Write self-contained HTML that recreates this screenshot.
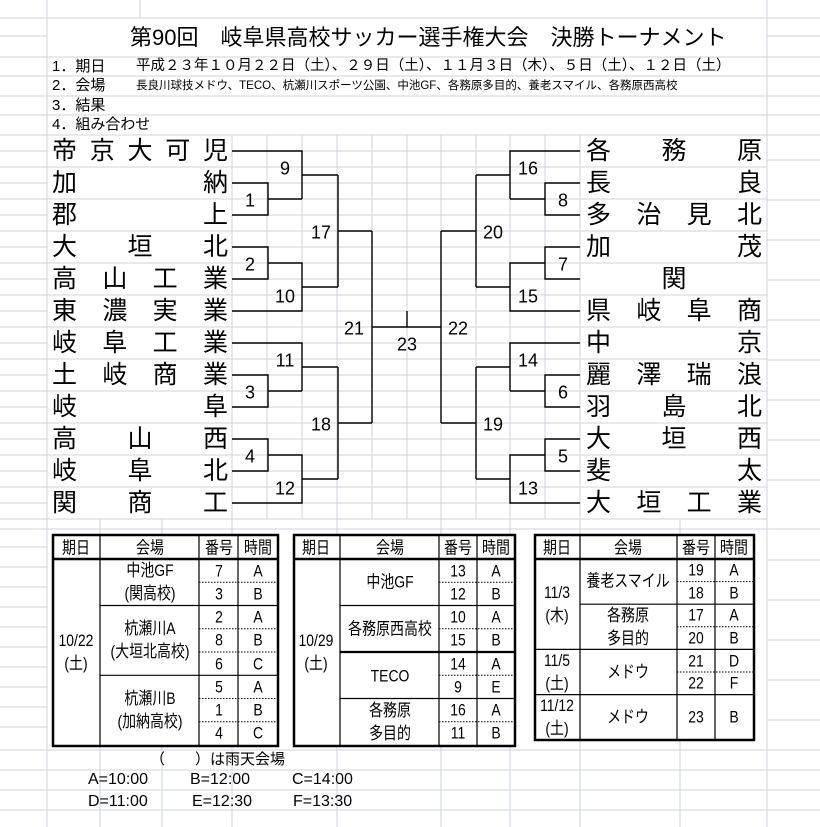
<!DOCTYPE html>
<html><head><meta charset="utf-8">
<style>
html,body{margin:0;padding:0;background:#fff;}
#w{position:relative;width:820px;height:827px;overflow:hidden;font-family:"Liberation Sans","Noto Sans CJK JP",sans-serif;color:#000;}
svg{position:absolute;left:0;top:0;}
.t{position:absolute;white-space:nowrap;}
.n{position:absolute;height:32px;line-height:32px;font-size:25px;display:flex;justify-content:space-between;}
.c{position:absolute;transform:translate(-50%,-50%) scaleX(0.82);white-space:pre;text-align:center;font-size:17px;line-height:23px;}
.b{position:absolute;transform:translate(-50%,-50%);font-size:18px;}
</style></head><body><div id="w">
<svg width="820" height="827">
<g stroke="#cdd3dd" stroke-width="1">
<line x1="47" y1="0" x2="47" y2="827"/>
<line x1="767" y1="0" x2="767" y2="827"/>
<line x1="140" y1="0" x2="140" y2="18"/>
<line x1="0" y1="18" x2="820" y2="18"/><line x1="0" y1="57" x2="820" y2="57"/>
<line x1="0" y1="76" x2="820" y2="76"/><line x1="0" y1="96" x2="820" y2="96"/>
<line x1="0" y1="115" x2="820" y2="115"/><line x1="0" y1="135" x2="820" y2="135"/>
<line x1="0" y1="529" x2="820" y2="529"/><line x1="0" y1="750" x2="820" y2="750"/>
<line x1="0" y1="770" x2="820" y2="770"/><line x1="0" y1="790" x2="820" y2="790"/>
<line x1="0" y1="810" x2="820" y2="810"/>
<g>
<line x1="0" y1="151" x2="47" y2="151"/><line x1="0" y1="167" x2="47" y2="167"/><line x1="0" y1="183" x2="47" y2="183"/><line x1="0" y1="199" x2="47" y2="199"/><line x1="0" y1="215" x2="47" y2="215"/><line x1="0" y1="231" x2="47" y2="231"/><line x1="0" y1="247" x2="47" y2="247"/><line x1="0" y1="263" x2="47" y2="263"/><line x1="0" y1="279" x2="47" y2="279"/><line x1="0" y1="295" x2="47" y2="295"/><line x1="0" y1="311" x2="47" y2="311"/><line x1="0" y1="327" x2="47" y2="327"/><line x1="0" y1="343" x2="47" y2="343"/><line x1="0" y1="359" x2="47" y2="359"/><line x1="0" y1="375" x2="47" y2="375"/><line x1="0" y1="391" x2="47" y2="391"/><line x1="0" y1="407" x2="47" y2="407"/><line x1="0" y1="423" x2="47" y2="423"/><line x1="0" y1="439" x2="47" y2="439"/><line x1="0" y1="455" x2="47" y2="455"/><line x1="0" y1="471" x2="47" y2="471"/><line x1="0" y1="487" x2="47" y2="487"/><line x1="0" y1="503" x2="47" y2="503"/><line x1="0" y1="519" x2="47" y2="519"/>
<line x1="0" y1="36" x2="47" y2="36"/><line x1="0" y1="547" x2="47" y2="547"/><line x1="0" y1="567" x2="47" y2="567"/><line x1="0" y1="587" x2="47" y2="587"/><line x1="0" y1="607" x2="47" y2="607"/><line x1="0" y1="627" x2="47" y2="627"/><line x1="0" y1="647" x2="47" y2="647"/><line x1="0" y1="667" x2="47" y2="667"/><line x1="0" y1="687" x2="47" y2="687"/><line x1="0" y1="707" x2="47" y2="707"/><line x1="0" y1="727" x2="47" y2="727"/>
<line x1="767" y1="36" x2="820" y2="36"/><line x1="767" y1="160" x2="820" y2="160"/><line x1="767" y1="200" x2="820" y2="200"/><line x1="767" y1="240" x2="820" y2="240"/><line x1="767" y1="280" x2="820" y2="280"/><line x1="767" y1="320" x2="820" y2="320"/><line x1="767" y1="360" x2="820" y2="360"/><line x1="767" y1="400" x2="820" y2="400"/><line x1="767" y1="440" x2="820" y2="440"/><line x1="767" y1="480" x2="820" y2="480"/><line x1="767" y1="560" x2="820" y2="560"/><line x1="767" y1="600" x2="820" y2="600"/><line x1="767" y1="640" x2="820" y2="640"/><line x1="767" y1="680" x2="820" y2="680"/><line x1="767" y1="720" x2="820" y2="720"/>
</g>
<g>
<line x1="232" y1="167" x2="580" y2="167"/><line x1="232" y1="199" x2="580" y2="199"/><line x1="232" y1="231" x2="580" y2="231"/><line x1="232" y1="263" x2="580" y2="263"/><line x1="232" y1="295" x2="580" y2="295"/><line x1="232" y1="327" x2="580" y2="327"/><line x1="232" y1="359" x2="580" y2="359"/><line x1="232" y1="391" x2="580" y2="391"/><line x1="232" y1="423" x2="580" y2="423"/><line x1="232" y1="455" x2="580" y2="455"/><line x1="232" y1="487" x2="580" y2="487"/><line x1="232" y1="519" x2="580" y2="519"/>
<line x1="232" y1="151" x2="580" y2="151"/><line x1="232" y1="183" x2="580" y2="183"/><line x1="232" y1="215" x2="580" y2="215"/><line x1="232" y1="247" x2="580" y2="247"/><line x1="232" y1="279" x2="580" y2="279"/><line x1="232" y1="311" x2="580" y2="311"/><line x1="232" y1="343" x2="580" y2="343"/><line x1="232" y1="375" x2="580" y2="375"/><line x1="232" y1="407" x2="580" y2="407"/><line x1="232" y1="439" x2="580" y2="439"/><line x1="232" y1="471" x2="580" y2="471"/><line x1="232" y1="503" x2="580" y2="503"/>
<line x1="232" y1="135" x2="232" y2="827"/><line x1="267" y1="135" x2="267" y2="519"/><line x1="302" y1="135" x2="302" y2="519"/><line x1="337" y1="135" x2="337" y2="519"/><line x1="372" y1="135" x2="372" y2="519"/><line x1="407" y1="135" x2="407" y2="519"/><line x1="441" y1="135" x2="441" y2="519"/><line x1="476" y1="135" x2="476" y2="519"/><line x1="510" y1="135" x2="510" y2="519"/><line x1="545" y1="135" x2="545" y2="519"/><line x1="580" y1="135" x2="580" y2="827"/>
<line x1="47" y1="167" x2="232" y2="167"/><line x1="47" y1="199" x2="232" y2="199"/><line x1="47" y1="231" x2="232" y2="231"/><line x1="47" y1="263" x2="232" y2="263"/><line x1="47" y1="295" x2="232" y2="295"/><line x1="47" y1="327" x2="232" y2="327"/><line x1="47" y1="359" x2="232" y2="359"/><line x1="47" y1="391" x2="232" y2="391"/><line x1="47" y1="423" x2="232" y2="423"/><line x1="47" y1="455" x2="232" y2="455"/><line x1="47" y1="487" x2="232" y2="487"/><line x1="47" y1="519" x2="232" y2="519"/>
<line x1="580" y1="167" x2="767" y2="167"/><line x1="580" y1="199" x2="767" y2="199"/><line x1="580" y1="231" x2="767" y2="231"/><line x1="580" y1="263" x2="767" y2="263"/><line x1="580" y1="295" x2="767" y2="295"/><line x1="580" y1="327" x2="767" y2="327"/><line x1="580" y1="359" x2="767" y2="359"/><line x1="580" y1="391" x2="767" y2="391"/><line x1="580" y1="423" x2="767" y2="423"/><line x1="580" y1="455" x2="767" y2="455"/><line x1="580" y1="487" x2="767" y2="487"/><line x1="580" y1="519" x2="767" y2="519"/>
<line x1="100" y1="519" x2="100" y2="827"/><line x1="162" y1="519" x2="162" y2="827"/><line x1="337" y1="519" x2="337" y2="827"/><line x1="441" y1="519" x2="441" y2="827"/><line x1="510" y1="519" x2="510" y2="827"/><line x1="680" y1="519" x2="680" y2="827"/>
</g>
</g>
<g stroke="#000" stroke-width="1.4" fill="none">
<polyline points="232,151 302,151 302,199"/>
<polyline points="232,183 268,183 268,215 232,215"/>
<polyline points="268,199 302,199"/>
<polyline points="302,175 338,175"/>
<polyline points="232,247 268,247 268,279 232,279"/>
<polyline points="268,263 302,263 302,311 232,311"/>
<polyline points="302,287 338,287"/>
<polyline points="338,175 338,287"/>
<polyline points="338,231 372,231"/>
<polyline points="232,343 302,343 302,391"/>
<polyline points="232,375 268,375 268,407 232,407"/>
<polyline points="268,391 302,391"/>
<polyline points="302,367 338,367"/>
<polyline points="232,439 268,439 268,471 232,471"/>
<polyline points="268,455 302,455 302,503 232,503"/>
<polyline points="302,479 338,479"/>
<polyline points="338,367 338,479"/>
<polyline points="338,423 372,423"/>
<polyline points="372,231 372,423"/>
<polyline points="372,327 441,327"/>
<polyline points="407,311 407,327"/>
<polyline points="580,151 510,151 510,199"/>
<polyline points="580,183 545,183 545,215 580,215"/>
<polyline points="545,199 510,199"/>
<polyline points="510,175 476,175"/>
<polyline points="580,247 545,247 545,279 580,279"/>
<polyline points="545,263 510,263 510,311 580,311"/>
<polyline points="510,287 476,287"/>
<polyline points="476,175 476,287"/>
<polyline points="476,231 441,231"/>
<polyline points="580,343 510,343 510,391"/>
<polyline points="580,375 545,375 545,407 580,407"/>
<polyline points="545,391 510,391"/>
<polyline points="510,367 476,367"/>
<polyline points="580,439 545,439 545,471 580,471"/>
<polyline points="545,455 510,455 510,503 580,503"/>
<polyline points="510,479 476,479"/>
<polyline points="476,367 476,479"/>
<polyline points="476,423 441,423"/>
<polyline points="441,231 441,423"/>
</g>
<g fill="#fff" stroke="none">
<rect x="52" y="534" width="227" height="213"/><rect x="293" y="534" width="223" height="213"/><rect x="534" y="534" width="221" height="207"/>
</g>
<g stroke="#000" fill="none">
<rect x="53" y="535" width="225" height="211" stroke-width="2.5"/>
<line x1="53" y1="559" x2="278" y2="559" stroke-width="2.5"/>
<line x1="100" y1="535" x2="100" y2="746" stroke-width="1.2"/>
<line x1="199" y1="535" x2="199" y2="746" stroke-width="1.2"/>
<line x1="238" y1="535" x2="238" y2="746" stroke-width="1.2"/>
<line x1="100" y1="605.5" x2="278" y2="605.5" stroke-width="1.2"/>
<line x1="100" y1="675.3" x2="278" y2="675.3" stroke-width="1.2"/>
<g stroke-dasharray="1.5,1.5" stroke-width="1"><line x1="199" y1="582.3" x2="278" y2="582.3"/><line x1="199" y1="628.8" x2="278" y2="628.8"/><line x1="199" y1="652" x2="278" y2="652"/><line x1="199" y1="698.5" x2="278" y2="698.5"/><line x1="199" y1="721.8" x2="278" y2="721.8"/></g>
<rect x="294" y="535" width="221" height="211" stroke-width="2.5"/>
<line x1="294" y1="559" x2="515" y2="559" stroke-width="2.5"/>
<line x1="340" y1="535" x2="340" y2="746" stroke-width="1.2"/>
<line x1="439" y1="535" x2="439" y2="746" stroke-width="1.2"/>
<line x1="477" y1="535" x2="477" y2="746" stroke-width="1.2"/>
<line x1="340" y1="605.5" x2="515" y2="605.5" stroke-width="1.2"/>
<line x1="340" y1="652" x2="515" y2="652" stroke-width="2.2"/>
<line x1="340" y1="698.5" x2="515" y2="698.5" stroke-width="1.2"/>
<g stroke-dasharray="1.5,1.5" stroke-width="1"><line x1="439" y1="582.3" x2="515" y2="582.3"/><line x1="439" y1="628.8" x2="515" y2="628.8"/><line x1="439" y1="675.3" x2="515" y2="675.3"/><line x1="439" y1="721.8" x2="515" y2="721.8"/></g>
<rect x="535" y="535" width="219" height="205" stroke-width="2.5"/>
<line x1="535" y1="559" x2="754" y2="559" stroke-width="2.5"/>
<line x1="580" y1="535" x2="580" y2="740" stroke-width="1.2"/>
<line x1="677" y1="535" x2="677" y2="740" stroke-width="1.2"/>
<line x1="715" y1="535" x2="715" y2="740" stroke-width="1.2"/>
<line x1="580" y1="604.2" x2="754" y2="604.2" stroke-width="1.2"/>
<line x1="535" y1="649.4" x2="754" y2="649.4" stroke-width="1.2"/>
<line x1="535" y1="694.6" x2="754" y2="694.6" stroke-width="1.2"/>
<g stroke-dasharray="1.5,1.5" stroke-width="1"><line x1="677" y1="581.6" x2="754" y2="581.6"/><line x1="677" y1="626.8" x2="754" y2="626.8"/><line x1="677" y1="672" x2="754" y2="672"/></g>
</g>
</svg>

<div class="t" style="left:130px;top:24px;font-size:22px;line-height:28px;">第90回　岐阜県高校サッカー選手権大会　決勝トーナメント</div>
<div class="t" style="left:52px;top:57px;font-size:15px;line-height:19px;">1．期日</div>
<div class="t" style="left:136px;top:57px;font-size:14.5px;line-height:19px;">平成２３年１０月２２日（土）、２９日（土）、１１月３日（木）、５日（土）、１２日（土）</div>
<div class="t" style="left:52px;top:76px;font-size:15px;line-height:19px;">2．会場</div>
<div class="t" style="left:136px;top:77px;font-size:11.5px;line-height:19px;">長良川球技メドウ、TECO、杭瀬川スポーツ公園、中池GF、各務原多目的、養老スマイル、各務原西高校</div>
<div class="t" style="left:52px;top:96px;font-size:15px;line-height:19px;">3．結果</div>
<div class="t" style="left:52px;top:115px;font-size:15px;line-height:20px;">4．組み合わせ</div>

<div class="n" style="left:52px;width:176px;top:135px;"><span>帝</span><span>京</span><span>大</span><span>可</span><span>児</span></div>
<div class="n" style="left:52px;width:176px;top:167px;"><span>加</span><span>納</span></div>
<div class="n" style="left:52px;width:176px;top:199px;"><span>郡</span><span>上</span></div>
<div class="n" style="left:52px;width:176px;top:231px;"><span>大</span><span>垣</span><span>北</span></div>
<div class="n" style="left:52px;width:176px;top:263px;"><span>高</span><span>山</span><span>工</span><span>業</span></div>
<div class="n" style="left:52px;width:176px;top:295px;"><span>東</span><span>濃</span><span>実</span><span>業</span></div>
<div class="n" style="left:52px;width:176px;top:327px;"><span>岐</span><span>阜</span><span>工</span><span>業</span></div>
<div class="n" style="left:52px;width:176px;top:359px;"><span>土</span><span>岐</span><span>商</span><span>業</span></div>
<div class="n" style="left:52px;width:176px;top:391px;"><span>岐</span><span>阜</span></div>
<div class="n" style="left:52px;width:176px;top:423px;"><span>高</span><span>山</span><span>西</span></div>
<div class="n" style="left:52px;width:176px;top:455px;"><span>岐</span><span>阜</span><span>北</span></div>
<div class="n" style="left:52px;width:176px;top:487px;"><span>関</span><span>商</span><span>工</span></div>

<div class="n" style="left:586px;width:176px;top:135px;"><span>各</span><span>務</span><span>原</span></div>
<div class="n" style="left:586px;width:176px;top:167px;"><span>長</span><span>良</span></div>
<div class="n" style="left:586px;width:176px;top:199px;"><span>多</span><span>治</span><span>見</span><span>北</span></div>
<div class="n" style="left:586px;width:176px;top:231px;"><span>加</span><span>茂</span></div>
<div class="n" style="left:586px;width:176px;top:263px;justify-content:center;"><span>関</span></div>
<div class="n" style="left:586px;width:176px;top:295px;"><span>県</span><span>岐</span><span>阜</span><span>商</span></div>
<div class="n" style="left:586px;width:176px;top:327px;"><span>中</span><span>京</span></div>
<div class="n" style="left:586px;width:176px;top:359px;"><span>麗</span><span>澤</span><span>瑞</span><span>浪</span></div>
<div class="n" style="left:586px;width:176px;top:391px;"><span>羽</span><span>島</span><span>北</span></div>
<div class="n" style="left:586px;width:176px;top:423px;"><span>大</span><span>垣</span><span>西</span></div>
<div class="n" style="left:586px;width:176px;top:455px;"><span>斐</span><span>太</span></div>
<div class="n" style="left:586px;width:176px;top:487px;"><span>大</span><span>垣</span><span>工</span><span>業</span></div>

<div class="b" style="left:285px;top:169px;">9</div>
<div class="b" style="left:250px;top:201px;">1</div>
<div class="b" style="left:321px;top:233px;">17</div>
<div class="b" style="left:250px;top:265px;">2</div>
<div class="b" style="left:285px;top:297px;">10</div>
<div class="b" style="left:354px;top:329px;">21</div>
<div class="b" style="left:407px;top:345px;">23</div>
<div class="b" style="left:458px;top:329px;">22</div>
<div class="b" style="left:285px;top:361px;">11</div>
<div class="b" style="left:250px;top:393px;">3</div>
<div class="b" style="left:321px;top:425px;">18</div>
<div class="b" style="left:250px;top:457px;">4</div>
<div class="b" style="left:285px;top:489px;">12</div>
<div class="b" style="left:528px;top:169px;">16</div>
<div class="b" style="left:563px;top:201px;">8</div>
<div class="b" style="left:493px;top:233px;">20</div>
<div class="b" style="left:563px;top:265px;">7</div>
<div class="b" style="left:528px;top:297px;">15</div>
<div class="b" style="left:528px;top:361px;">14</div>
<div class="b" style="left:563px;top:393px;">6</div>
<div class="b" style="left:493px;top:425px;">19</div>
<div class="b" style="left:563px;top:457px;">5</div>
<div class="b" style="left:528px;top:489px;">13</div>

<div class="c" style="left:76px;top:548px;">期日</div>
<div class="c" style="left:150px;top:548px;">会場</div>
<div class="c" style="left:219px;top:548px;">番号</div>
<div class="c" style="left:258px;top:548px;">時間</div>
<div class="c" style="left:76px;top:652px;">10/22
(土)</div>
<div class="c" style="left:150px;top:582px;">中池GF
(関高校)</div>
<div class="c" style="left:150px;top:640px;">杭瀬川A
(大垣北高校)</div>
<div class="c" style="left:150px;top:710px;">杭瀬川B
(加納高校)</div>
<div class="c" style="left:219px;top:571px;">7</div><div class="c" style="left:258px;top:571px;">A</div>
<div class="c" style="left:219px;top:594px;">3</div><div class="c" style="left:258px;top:594px;">B</div>
<div class="c" style="left:219px;top:617px;">2</div><div class="c" style="left:258px;top:617px;">A</div>
<div class="c" style="left:219px;top:640px;">8</div><div class="c" style="left:258px;top:640px;">B</div>
<div class="c" style="left:219px;top:664px;">6</div><div class="c" style="left:258px;top:664px;">C</div>
<div class="c" style="left:219px;top:687px;">5</div><div class="c" style="left:258px;top:687px;">A</div>
<div class="c" style="left:219px;top:710px;">1</div><div class="c" style="left:258px;top:710px;">B</div>
<div class="c" style="left:219px;top:733px;">4</div><div class="c" style="left:258px;top:733px;">C</div>

<div class="c" style="left:316px;top:548px;">期日</div>
<div class="c" style="left:390px;top:548px;">会場</div>
<div class="c" style="left:458px;top:548px;">番号</div>
<div class="c" style="left:496px;top:548px;">時間</div>
<div class="c" style="left:316px;top:652px;">10/29
(土)</div>
<div class="c" style="left:390px;top:582px;">中池GF</div>
<div class="c" style="left:390px;top:629px;">各務原西高校</div>
<div class="c" style="left:390px;top:676px;">TECO</div>
<div class="c" style="left:390px;top:722px;">各務原
多目的</div>
<div class="c" style="left:458px;top:571px;">13</div><div class="c" style="left:496px;top:571px;">A</div>
<div class="c" style="left:458px;top:594px;">12</div><div class="c" style="left:496px;top:594px;">B</div>
<div class="c" style="left:458px;top:617px;">10</div><div class="c" style="left:496px;top:617px;">A</div>
<div class="c" style="left:458px;top:640px;">15</div><div class="c" style="left:496px;top:640px;">B</div>
<div class="c" style="left:458px;top:664px;">14</div><div class="c" style="left:496px;top:664px;">A</div>
<div class="c" style="left:458px;top:687px;">9</div><div class="c" style="left:496px;top:687px;">E</div>
<div class="c" style="left:458px;top:710px;">16</div><div class="c" style="left:496px;top:710px;">A</div>
<div class="c" style="left:458px;top:733px;">11</div><div class="c" style="left:496px;top:733px;">B</div>

<div class="c" style="left:557px;top:548px;">期日</div>
<div class="c" style="left:628px;top:548px;">会場</div>
<div class="c" style="left:696px;top:548px;">番号</div>
<div class="c" style="left:734px;top:548px;">時間</div>
<div class="c" style="left:557px;top:604px;">11/3
(木)</div>
<div class="c" style="left:557px;top:672px;">11/5
(土)</div>
<div class="c" style="left:557px;top:717px;">11/12
(土)</div>
<div class="c" style="left:628px;top:581px;">養老スマイル</div>
<div class="c" style="left:628px;top:627px;">各務原
多目的</div>
<div class="c" style="left:628px;top:672px;">メドウ</div>
<div class="c" style="left:628px;top:717px;">メドウ</div>
<div class="c" style="left:696px;top:570px;">19</div><div class="c" style="left:734px;top:570px;">A</div>
<div class="c" style="left:696px;top:593px;">18</div><div class="c" style="left:734px;top:593px;">B</div>
<div class="c" style="left:696px;top:615px;">17</div><div class="c" style="left:734px;top:615px;">A</div>
<div class="c" style="left:696px;top:638px;">20</div><div class="c" style="left:734px;top:638px;">B</div>
<div class="c" style="left:696px;top:661px;">21</div><div class="c" style="left:734px;top:661px;">D</div>
<div class="c" style="left:696px;top:683px;">22</div><div class="c" style="left:734px;top:683px;">F</div>
<div class="c" style="left:696px;top:717px;">23</div><div class="c" style="left:734px;top:717px;">B</div>

<div class="t" style="left:150px;top:751px;font-size:15px;line-height:18px;">（　　）は雨天会場</div>
<div class="t" style="left:88px;top:771px;font-size:16px;line-height:18px;">A=10:00</div>
<div class="t" style="left:190px;top:771px;font-size:16px;line-height:18px;">B=12:00</div>
<div class="t" style="left:292px;top:771px;font-size:16px;line-height:18px;">C=14:00</div>
<div class="t" style="left:88px;top:793px;font-size:16px;line-height:18px;">D=11:00</div>
<div class="t" style="left:192px;top:793px;font-size:16px;line-height:18px;">E=12:30</div>
<div class="t" style="left:293px;top:793px;font-size:16px;line-height:18px;">F=13:30</div>
</div></body></html>
